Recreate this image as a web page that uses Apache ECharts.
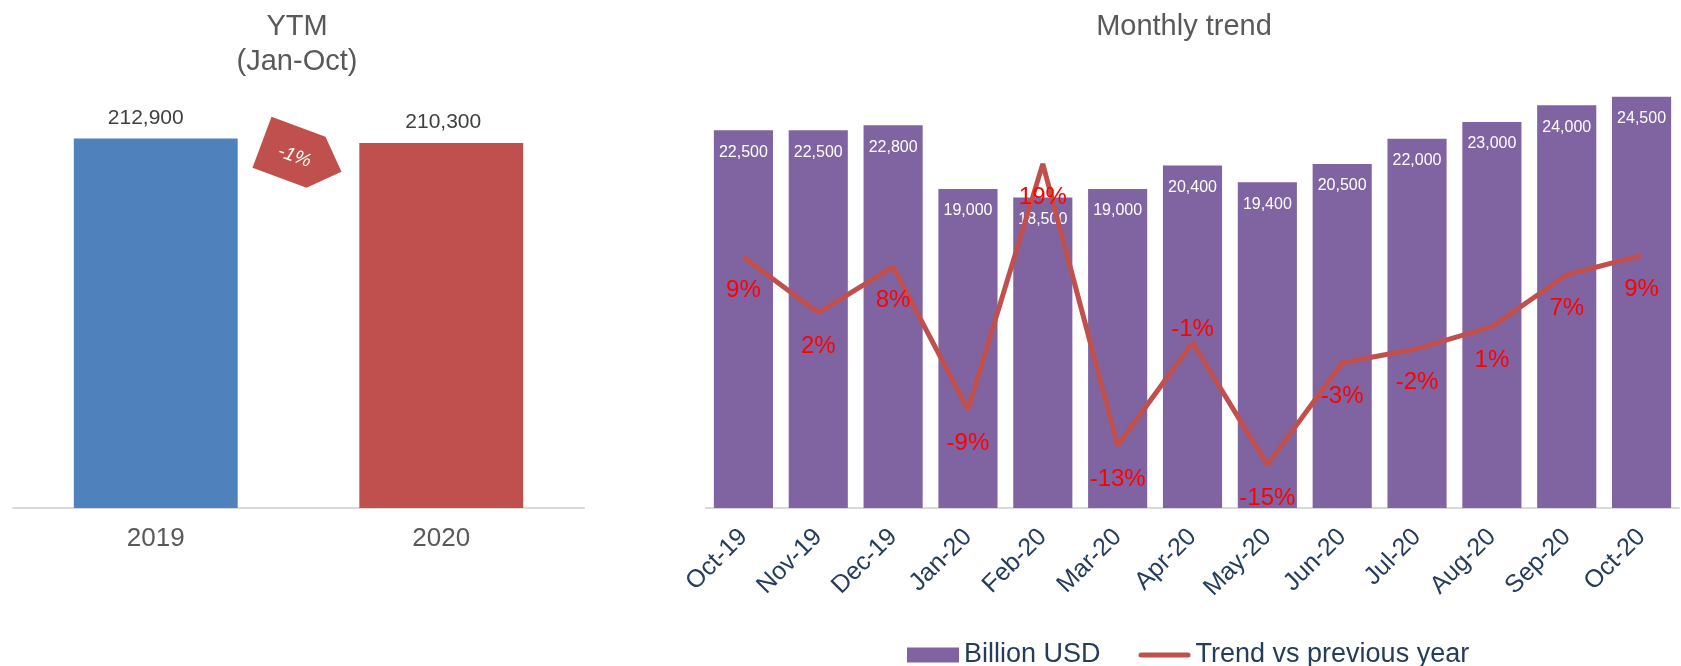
<!DOCTYPE html>
<html lang="en">
<head>
    <meta charset="UTF-8">
    <title>YTM and monthly trend</title>
    <style>
        * { margin: 0; padding: 0; box-sizing: border-box; }
        body { background: #ffffff; }
        #chart { width: 1681px; height: 666px; }
    </style>
    <script src="https://cdn.jsdelivr.net/npm/echarts@6.0.0/dist/echarts.min.js"></script>
</head>
<body>
    <div id="chart"></div>

    <script>
        // YTM (Jan-Oct)
        const ytmYears = ['2019', '2020'];
        const ytmValues = [212900, 210300];
        const ytmColors = ['#4F81BD', '#C0504D'];

        // monthly trend
        const months = ['Oct-19', 'Nov-19', 'Dec-19', 'Jan-20', 'Feb-20', 'Mar-20', 'Apr-20',
                        'May-20', 'Jun-20', 'Jul-20', 'Aug-20', 'Sep-20', 'Oct-20'];
        const monthlyValues = [22500, 22500, 22800, 19000, 18500, 19000, 20400,
                               19400, 20500, 22000, 23000, 24000, 24500];
        const trendValues = [0.087, 0.024, 0.076, -0.086, 0.193, -0.127, -0.010,
                             -0.149, -0.033, -0.017, 0.008, 0.067, 0.089];
        const trendLabelAbove = ['Apr-20'];

        const FONT = '"Liberation Sans", Arial, sans-serif';
        const NAVY = '#253D5B';
        const GREY = '#595959';
        const AXIS = '#D9D9D9';

        const fmtNum = v => v.toLocaleString('en-US');
        const fmtPct = v => Math.round(v * 100) + '%';

        const chart = echarts.init(document.getElementById('chart'));

        const option = {
            animation: false,
            textStyle: { fontFamily: FONT },
            title: [
                {
                    text: 'YTM\n(Jan-Oct)',
                    left: 292, top: 4, textAlign: 'center',
                    textStyle: { fontSize: 29, fontWeight: 'normal', color: GREY, lineHeight: 35, fontFamily: FONT }
                },
                {
                    text: 'Monthly trend',
                    left: 1179, top: 4, textAlign: 'center',
                    textStyle: { fontSize: 29, fontWeight: 'normal', color: GREY, lineHeight: 35, fontFamily: FONT }
                }
            ],
            legend: {
                left: 902, top: 635,
                itemWidth: 52, itemHeight: 15, itemGap: 38,
                textStyle: { fontSize: 27, color: NAVY, lineHeight: 30, fontFamily: FONT },
                data: [
                    { name: 'Billion USD', icon: 'rect' },
                    { name: 'Trend vs previous year', icon: 'path://M2.5,0 L49.5,0 A2.5,2.5 0 0 1 49.5,5 L2.5,5 A2.5,2.5 0 0 1 2.5,0 Z' }
                ]
            },
            grid: [
                { left: 13, width: 571, top: 74, bottom: 158 },
                { left: 706, right: 2, top: 38, bottom: 158 }
            ],
            xAxis: [
                {
                    type: 'category', gridIndex: 0, data: ytmYears,
                    axisLine: { lineStyle: { color: AXIS, width: 2 } },
                    axisTick: { length: 8, lineStyle: { color: AXIS, width: 2 } },
                    axisLabel: { fontSize: 26, color: GREY, margin: 18, fontFamily: FONT }
                },
                {
                    type: 'category', gridIndex: 1, data: months,
                    axisLine: { lineStyle: { color: AXIS, width: 2 } },
                    axisTick: { length: 7, lineStyle: { color: AXIS, width: 2 } },
                    axisLabel: { fontSize: 25, color: NAVY, rotate: 45, margin: 25, interval: 0, fontFamily: FONT }
                }
            ],
            yAxis: [
                { type: 'value', gridIndex: 0, min: 0, max: 250000, show: false },
                { type: 'value', gridIndex: 1, min: 0, max: 28000, show: false },
                { type: 'value', gridIndex: 1, min: -0.198, max: 0.336, show: false }
            ],
            series: [
                {
                    type: 'bar', xAxisIndex: 0, yAxisIndex: 0,
                    barCategoryGap: '42.6%',
                    data: ytmValues.map((v, i) => ({
                        value: v,
                        itemStyle: { color: ytmColors[i] },
                        label: { offset: [i === 0 ? -10 : 2, 0] }
                    })),
                    label: {
                        show: true, position: 'top', distance: 10,
                        fontSize: 21, color: '#404040', fontFamily: FONT,
                        formatter: p => fmtNum(p.value)
                    }
                },
                {
                    name: 'Billion USD',
                    type: 'bar', xAxisIndex: 1, yAxisIndex: 1,
                    barCategoryGap: '21%',
                    itemStyle: { color: '#8064A2' },
                    data: monthlyValues,
                    label: {
                        show: true, position: 'insideTop', distance: 14,
                        fontSize: 16, color: '#ffffff', fontFamily: FONT,
                        formatter: p => fmtNum(p.value)
                    }
                },
                {
                    name: 'Trend vs previous year',
                    type: 'line', xAxisIndex: 1, yAxisIndex: 2,
                    symbol: 'circle', symbolSize: 1,
                    itemStyle: { color: '#C0504D' },
                    lineStyle: { color: '#C0504D', width: 5 },
                    z: 5,
                    data: trendValues.map((v, i) => {
                        const item = { value: v };
                        if (trendLabelAbove.includes(months[i])) {
                            item.label = { position: 'top', distance: 1 };
                        }
                        return item;
                    }),
                    label: {
                        show: true, position: 'bottom', distance: 21,
                        fontSize: 24, color: '#FF0000', fontFamily: FONT,
                        formatter: p => fmtPct(p.value)
                    }
                }
            ]
        };

        chart.setOption(option);

        // change badge between the two YTM bars
        const p0 = chart.convertToPixel({ xAxisIndex: 0, yAxisIndex: 0 }, [0, ytmValues[0]]);
        const p1 = chart.convertToPixel({ xAxisIndex: 0, yAxisIndex: 0 }, [1, ytmValues[1]]);
        const cx = (p0[0] + p1[0]) / 2 + 1;
        const cy = (p0[1] + p1[1]) / 2 + 15;
        const change = (ytmValues[1] - ytmValues[0]) / ytmValues[0];
        const badge = [[-28, -39], [26, -19], [42, 16], [7, 32], [-47, 12]];

        chart.setOption({
            graphic: [
                {
                    type: 'polygon',
                    shape: { points: badge.map(p => [cx + p[0], cy + p[1]]) },
                    style: { fill: '#C0504D' },
                    z: 10
                },
                {
                    type: 'text',
                    x: cx - 5, y: cy + 1,
                    rotation: -0.35,
                    style: {
                        text: fmtPct(change),
                        fill: '#ffffff',
                        font: 'italic 19px "Liberation Sans", Arial, sans-serif',
                        align: 'center', verticalAlign: 'middle'
                    },
                    z: 11
                }
            ]
        });
    </script>
</body>
</html>
